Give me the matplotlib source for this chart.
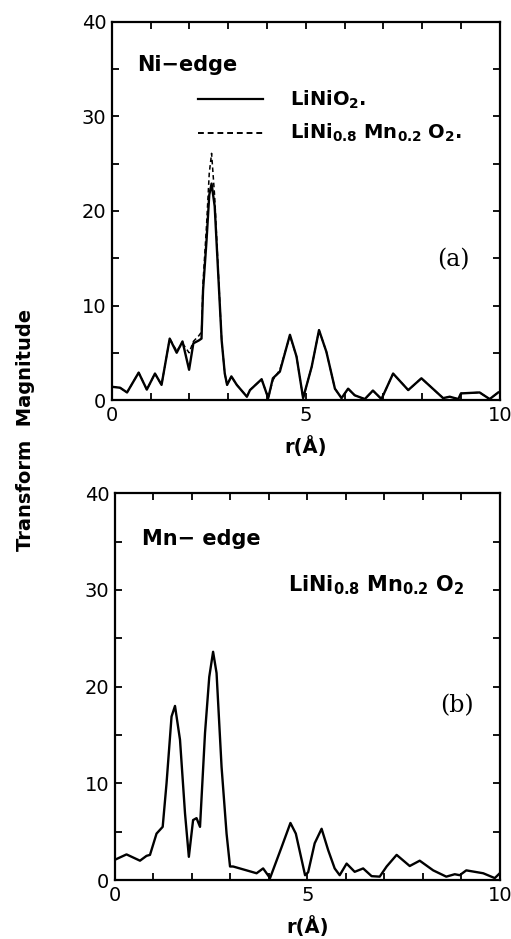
import matplotlib.pyplot as plt
from matplotlib.ticker import MultipleLocator

plt.rcParams['font.family'] = ['DejaVu Sans']

# Ni-edge, LiNiO2 (solid)
r_ni = [0.0, 0.21, 0.39, 0.69, 0.90, 1.11, 1.28, 1.49, 1.67, 1.82, 1.99, 2.10, 2.24,
        2.31, 2.35, 2.44, 2.51, 2.57, 2.65, 2.74, 2.83, 2.91, 2.97, 3.08, 3.22, 3.48,
        3.56, 3.86, 4.03, 4.15, 4.33, 4.59, 4.76, 4.93, 5.15, 5.34, 5.53, 5.75, 5.92,
        6.09, 6.26, 6.52, 6.73, 6.95, 7.25, 7.64, 7.98, 8.54, 8.71, 8.93, 9.00, 9.48,
        9.74, 9.96]
ni_lno = [1.4, 1.3, 0.8, 2.9, 1.1, 2.8, 1.6, 6.5, 5.0, 6.2, 3.2, 6.0, 6.3,
          6.5, 11.6, 16.9, 21.7, 22.9, 20.5, 13.4, 6.3, 2.8, 1.6, 2.5, 1.6, 0.35,
          1.05, 2.2, 0.2, 2.3, 3.0, 6.9, 4.6, 0.2, 3.5, 7.4, 5.1, 1.2, 0.2,
          1.2, 0.5, 0.1, 1.0, 0.1, 2.8, 1.05, 2.3, 0.2, 0.35, 0.1, 0.7, 0.8,
          0.1, 0.8]
# Ni-edge, LiNi0.8Mn0.2O2 (dashed)
ni_lnmo = [1.4, 1.3, 0.8, 2.9, 1.1, 2.8, 1.6, 6.5, 5.2, 6.0, 5.0, 6.2, 6.8,
           7.2, 12.5, 18.5, 24.0, 26.1, 21.5, 13.8, 6.3, 2.8, 1.6, 2.5, 1.6, 0.35,
           1.05, 2.2, 0.2, 2.1, 3.2, 6.8, 4.6, 0.2, 3.5, 7.4, 5.1, 1.2, 0.2,
           1.2, 0.5, 0.1, 1.0, 0.1, 2.8, 1.05, 2.3, 0.2, 0.35, 0.1, 0.7, 0.8,
           0.1, 0.8]

# Mn-edge, LiNi0.8Mn0.2O2
r_mn = [0.0, 0.30, 0.65, 0.82, 0.91, 1.08, 1.24, 1.34, 1.47, 1.56, 1.69, 1.82, 1.92,
        2.03, 2.12, 2.21, 2.34, 2.45, 2.55, 2.64, 2.77, 2.90, 2.99, 3.07, 3.42, 3.68,
        3.85, 4.03, 4.33, 4.56, 4.70, 4.94, 5.02, 5.19, 5.37, 5.54, 5.71, 5.84, 6.02,
        6.23, 6.45, 6.67, 6.88, 7.06, 7.32, 7.66, 7.92, 8.27, 8.61, 8.83, 8.96, 9.13,
        9.57, 9.87, 10.0]
mn_lnmo = [2.1, 2.65, 2.0, 2.5, 2.6, 4.8, 5.5, 10.0, 16.9, 18.0, 14.5, 6.9, 2.4,
           6.2, 6.4, 5.5, 15.2, 21.0, 23.6, 21.4, 11.7, 4.8, 1.4, 1.4, 1.0, 0.7,
           1.2, 0.2, 3.4, 5.9, 4.8, 0.5, 0.8, 3.8, 5.3, 3.1, 1.2, 0.5, 1.7,
           0.85, 1.2, 0.4, 0.35, 1.4, 2.6, 1.45, 2.0, 1.0, 0.35, 0.6, 0.5, 1.0,
           0.7, 0.2, 0.7]

fig = plt.figure(figsize=(5.11, 9.39), dpi=100)
ax1 = fig.add_axes([0.219, 0.574, 0.759, 0.4026])
ax2 = fig.add_axes([0.225, 0.0628, 0.753, 0.412])

for ax in (ax1, ax2):
    ax.set_xlim(0, 10)
    ax.set_ylim(0, 40)
    ax.set_xticks([0, 5, 10])
    ax.set_yticks([0, 10, 20, 30, 40])
    ax.xaxis.set_minor_locator(MultipleLocator(1))
    ax.yaxis.set_minor_locator(MultipleLocator(5))
    ax.tick_params(which='both', direction='in', top=True, right=True,
                   length=5, width=1.3, labelsize=14, pad=4)
    for s in ax.spines.values():
        s.set_linewidth(1.6)
    ax.set_xlabel('r(Å)', fontsize=14, fontweight='bold', labelpad=8)

ax1.plot(r_ni, ni_lno, color='black', lw=1.7, solid_joinstyle='round')
ax1.plot(r_ni, ni_lnmo, color='black', lw=1.1, ls=(0, (3, 2)))
ax2.plot(r_mn, mn_lnmo, color='black', lw=1.7, solid_joinstyle='round')

# legend drawn by hand like the original
ax1.plot([2.22, 3.9], [31.8, 31.8], color='black', lw=1.6)
ax1.plot([2.22, 3.9], [28.3, 28.3], color='black', lw=1.4, ls=(0, (3, 2)))
ax1.text(4.6, 31.8, r'LiNiO$_\mathbf{2}$.', fontsize=14, fontweight='bold', va='center')
ax1.text(4.6, 28.3, r'LiNi$_\mathbf{0.8}$ Mn$_\mathbf{0.2}$ O$_\mathbf{2}$.',
         fontsize=14, fontweight='bold', va='center')
ax1.text(0.65, 35.5, 'Ni−edge', fontsize=15, fontweight='bold', va='center')
ax1.text(8.8, 14.8, '(a)', fontsize=17, family='DejaVu Serif', ha='center', va='center')

ax2.text(0.7, 35.3, 'Mn− edge', fontsize=15, fontweight='bold', va='center')
ax2.text(4.5, 30.5, r'LiNi$_\mathbf{0.8}$ Mn$_\mathbf{0.2}$ O$_\mathbf{2}$',
         fontsize=15, fontweight='bold', va='center')
ax2.text(8.9, 18.0, '(b)', fontsize=17, family='DejaVu Serif', ha='center', va='center')

fig.text(0.05, 0.542, 'Transform  Magnitude', rotation=90, fontsize=14,
         fontweight='bold', ha='center', va='center')

fig.savefig('out.png', dpi=100)
